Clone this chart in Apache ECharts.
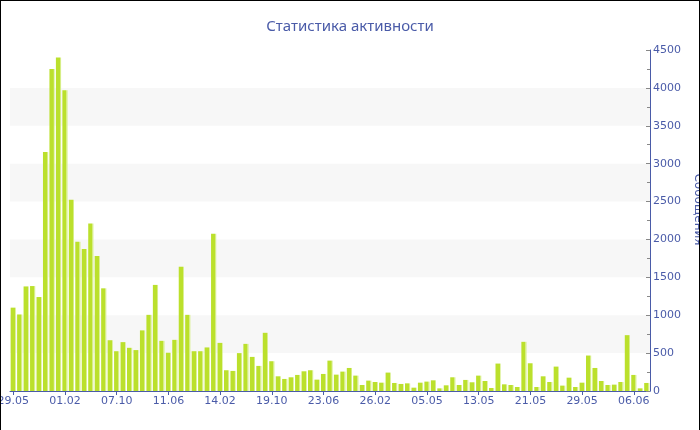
<!DOCTYPE html>
<html>
<head>
<meta charset="utf-8">
<script src="https://cdn.jsdelivr.net/npm/echarts@6/dist/echarts.min.js"></script>
<style>
html,body{margin:0;padding:0;background:#fff;}
#chart{width:700px;height:430px;box-sizing:border-box;border-top:1px solid #000;border-left:1px solid #000;border-right:1px solid #000;}
</style>
</head>
<body>
<div id="chart"></div>
<script>
var titleText = 'Статистика активности';
var axisName = 'Сообщения';
var categories = [
 '29.05','29.06','30.07','30.08','30.09','31.10','01.12','01.01',
 '01.02','04.03','04.04','05.05','05.06','06.07','06.08','06.09',
 '07.10','07.11','08.12','08.01','08.02','11.03','11.04','11.05',
 '11.06','12.07','12.08','12.09','13.10','13.11','14.12','14.01',
 '14.02','17.03','17.04','18.05','18.06','19.07','19.08','19.09',
 '19.10','19.11','20.12','20.01','20.02','23.03','23.04','23.05',
 '23.06','24.07','24.08','24.09','25.10','25.11','26.12','26.01',
 '26.02','06.03','15.03','23.03','01.04','09.04','18.04','26.04',
 '05.05','06.05','07.05','08.05','09.05','10.05','11.05','12.05',
 '13.05','14.05','15.05','16.05','17.05','18.05','19.05','20.05',
 '21.05','22.05','23.05','24.05','25.05','26.05','27.05','28.05',
 '29.05','30.05','31.05','01.06','02.06','03.06','04.06','05.06',
 '06.06','07.06','08.06'
];
var messages = [
 1100,1010,1380,1385,1240,3155,4250,4400,
 3970,2525,1970,1875,2210,1780,1355,670,
 525,645,570,540,800,1005,1400,662,
 505,675,1640,1005,525,525,575,2075,
 635,274,265,500,622,450,331,768,
 393,194,159,181,212,260,274,150,
 225,401,216,256,304,203,79,137,
 119,110,243,106,93,101,44,110,
 124,141,35,75,181,79,146,115,
 203,132,40,362,88,79,53,649,
 366,53,194,119,322,71,176,53,
 110,468,304,132,79,84,119,737,
 212,35,106
];
var yMin = 0, yMax = 4500, yStep = 500;

var blue = '#4a5ba8';
var chart = echarts.init(document.getElementById('chart'));
chart.setOption({
  animation: false,
  backgroundColor: '#fff',
  title: {
    text: titleText,
    left: 'center',
    top: 13,
    textStyle: {color: blue, fontSize: 15, fontWeight: 'normal', fontFamily: 'Noto Sans'}
  },
  grid: {left: 9, right: 49, top: 49, bottom: 39, outerBoundsMode: 'none', containLabel: false},
  xAxis: {
    type: 'category',
    data: categories,
    axisLine: {lineStyle: {color: blue, width: 1}},
    axisTick: {show: true, interval: 7, alignWithLabel: true, length: 4, lineStyle: {color: blue}},
    axisLabel: {interval: 7, color: blue, fontSize: 11, fontFamily: 'DejaVu Sans', margin: 5}
  },
  yAxis: {
    type: 'value',
    position: 'right',
    min: yMin, max: yMax, interval: yStep,
    name: axisName,
    nameLocation: 'middle',
    nameRotate: -90,
    nameGap: 40,
    nameTextStyle: {color: blue, fontSize: 12, fontFamily: 'DejaVu Sans', padding: [0, 22, 0, 0]},
    axisLine: {show: true, lineStyle: {color: blue}},
    axisTick: {show: true, inside: true, length: 4, lineStyle: {color: '#888'}},
    minorTick: {show: true, splitNumber: 2, length: 3, lineStyle: {color: '#888'}},
    axisLabel: {color: blue, fontSize: 11, fontFamily: 'DejaVu Sans', margin: 3, formatter: function (v) { return String(v); }},
    splitLine: {show: false},
    splitArea: {show: true, areaStyle: {color: ['rgba(255,255,255,0)', '#f7f7f7']}}
  },
  series: [{
    type: 'bar',
    data: messages,
    barCategoryGap: '20%',
    itemStyle: {
      color: new echarts.graphic.LinearGradient(0, 0, 1, 0, [
        {offset: 0, color: '#bbe02c'},
        {offset: 0.78, color: '#bbe02c'},
        {offset: 0.8, color: '#d6ee86'},
        {offset: 1, color: '#d6ee86'}
      ])
    }
  }]
});
</script>
</body>
</html>
